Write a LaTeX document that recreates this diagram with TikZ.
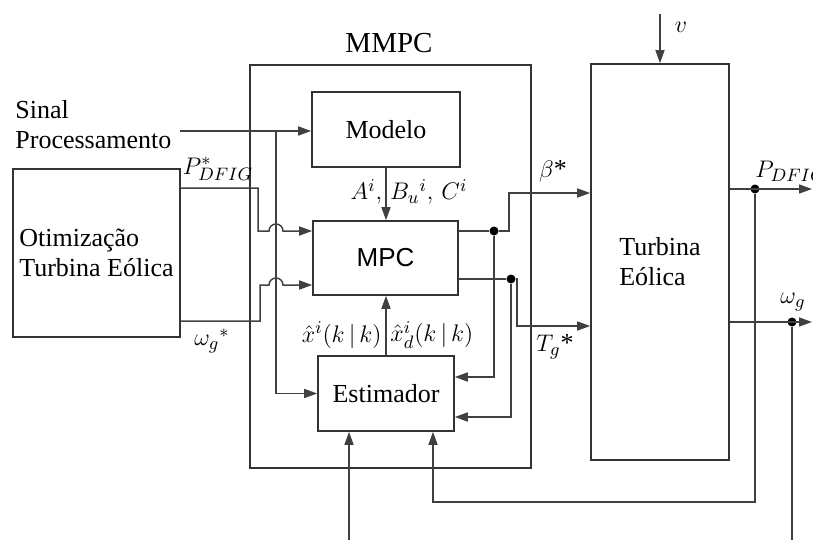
\documentclass[tikz,border=0pt]{standalone}
\usepackage{fontspec}
\setmainfont{Liberation Serif}
\newfontfamily\sansmpc{Liberation Sans}
\usetikzlibrary{arrows.meta,positioning}

\begin{document}
\begin{tikzpicture}[
    x=0.5pt, y=-0.5pt,
    font=\fontsize{13}{15}\selectfont,
    block/.style={rectangle, draw=black!80, line width=0.8pt, inner sep=0pt},
    line/.style={draw=black!75, line width=0.75pt},
    arrow/.style={line, -{Triangle[length=6.5pt,width=4.5pt]}},
    dot/.style={circle, fill=black, inner sep=0pt, minimum size=4.5pt},
    lbl/.style={inner sep=0pt}
]
\useasboundingbox (0,0) rectangle (813,540);

% Blocks
\node[block, minimum width=140.5pt, minimum height=201.5pt] (mmpc) at (390.5,266.5) {};
\node[font=\fontsize{14.5}{16}\selectfont] (mmpclbl) at (389,43) {MMPC};
\node[block, minimum width=74pt, minimum height=37.5pt] (modelo) at (386,129.5) {Modelo};
\node[block, minimum width=72.5pt, minimum height=37pt] (mpc) at (385.5,258) {\sansmpc MPC};
\node[block, minimum width=68pt, minimum height=37.5pt] (est) at (386,393.5) {Estimador};
\node[block, minimum width=83.5pt, minimum height=84pt, align=left] (otim) at (96.5,253) {Otimização\\Turbina Eólica};
\node[block, minimum width=69pt, minimum height=198pt, align=left] (turb) at (660,262) {Turbina\\Eólica};
\node[lbl, align=left, anchor=west] (sinal) at (15,125) {Sinal\\Processamento};

% Free ends
\coordinate (sigin) at (180,131);
\coordinate (sigbr) at (276,131);
\coordinate (fb) at (433,502);
\coordinate (estin) at (349,545);
\coordinate (vin) at (660,14);
\coordinate (pout) at (812,189);
\coordinate (wout) at (812,322);
\coordinate (wdown) at (792,545);

% Inputs
\draw[arrow] (sigin) -- (modelo.west |- sigin);
\draw[arrow] (sigbr) |- (est.west);
\draw[arrow] (otim.east |- 0,188) -- (258,188) -- (258,231) -- (269,231)
    arc[start angle=180, end angle=0, radius=3.5pt] -- (mpc.west |- 0,231);
\draw[arrow] (otim.east |- 0,321) -- (260,321) -- (260,285) -- (269,285)
    arc[start angle=180, end angle=0, radius=3.5pt] -- (mpc.west |- 0,285);
\draw[arrow] (modelo.south) -- (modelo.south |- mpc.north);
\draw[arrow] (est.north) -- (est.north |- mpc.south);
\draw[arrow] (estin) -- (estin |- est.south);
\draw[arrow] (vin) -- (turb.north);

% MPC outputs
\node[dot] (d1) at (494,231) {};
\node[dot] (d2) at (511,279) {};
\draw[arrow] (mpc.east |- d1) -- (d1) -- (509,231) -- (509,193) -- (turb.west |- 0,193);
\draw[arrow] (d1) |- (est.east |- 0,377);
\draw[arrow] (mpc.east |- d2) -- (d2) -- (517,279) -- (517,326) -- (turb.west |- 0,326);
\draw[arrow] (d2) |- (est.east |- 0,417);

% Turbine outputs
\node[dot] (d3) at (755,189) {};
\node[dot] (d4) at (792,322) {};
\draw[arrow] (turb.east |- d3) -- (pout);
\draw[arrow] (turb.east |- d4) -- (wout);
\draw[arrow] (d3) |- (fb) -- (fb |- est.south);
\draw[line] (d4) -- (wdown);

% Labels
\node[lbl] (plbl) at (218,169) {$P^{*}_{DFIG}$};
\node[lbl] (wlbl) at (212,341) {$\omega_g{}^{*}$};
\node[lbl] (abc) at (409,192) {$A^i,\, B_u{}^i,\, C^i$};
\node[lbl, anchor=east] (xhat) at (382,335) {$\hat{x}^i(k\,|\,k)$};
\node[lbl, anchor=west] (xdhat) at (390,335) {$\hat{x}^i_d(k\,|\,k)$};
\node[lbl] (blbl) at (553,171) {$\beta$*};
\node[lbl] (tlbl) at (555,347) {$T_g$*};
\node[lbl, anchor=west] (plbl2) at (755,171) {$P_{DFIG}$};
\node[lbl] (wlbl2) at (793,302) {$\omega_g$};
\node[lbl] (vlbl) at (681,27) {$v$};

\end{tikzpicture}
\end{document}
